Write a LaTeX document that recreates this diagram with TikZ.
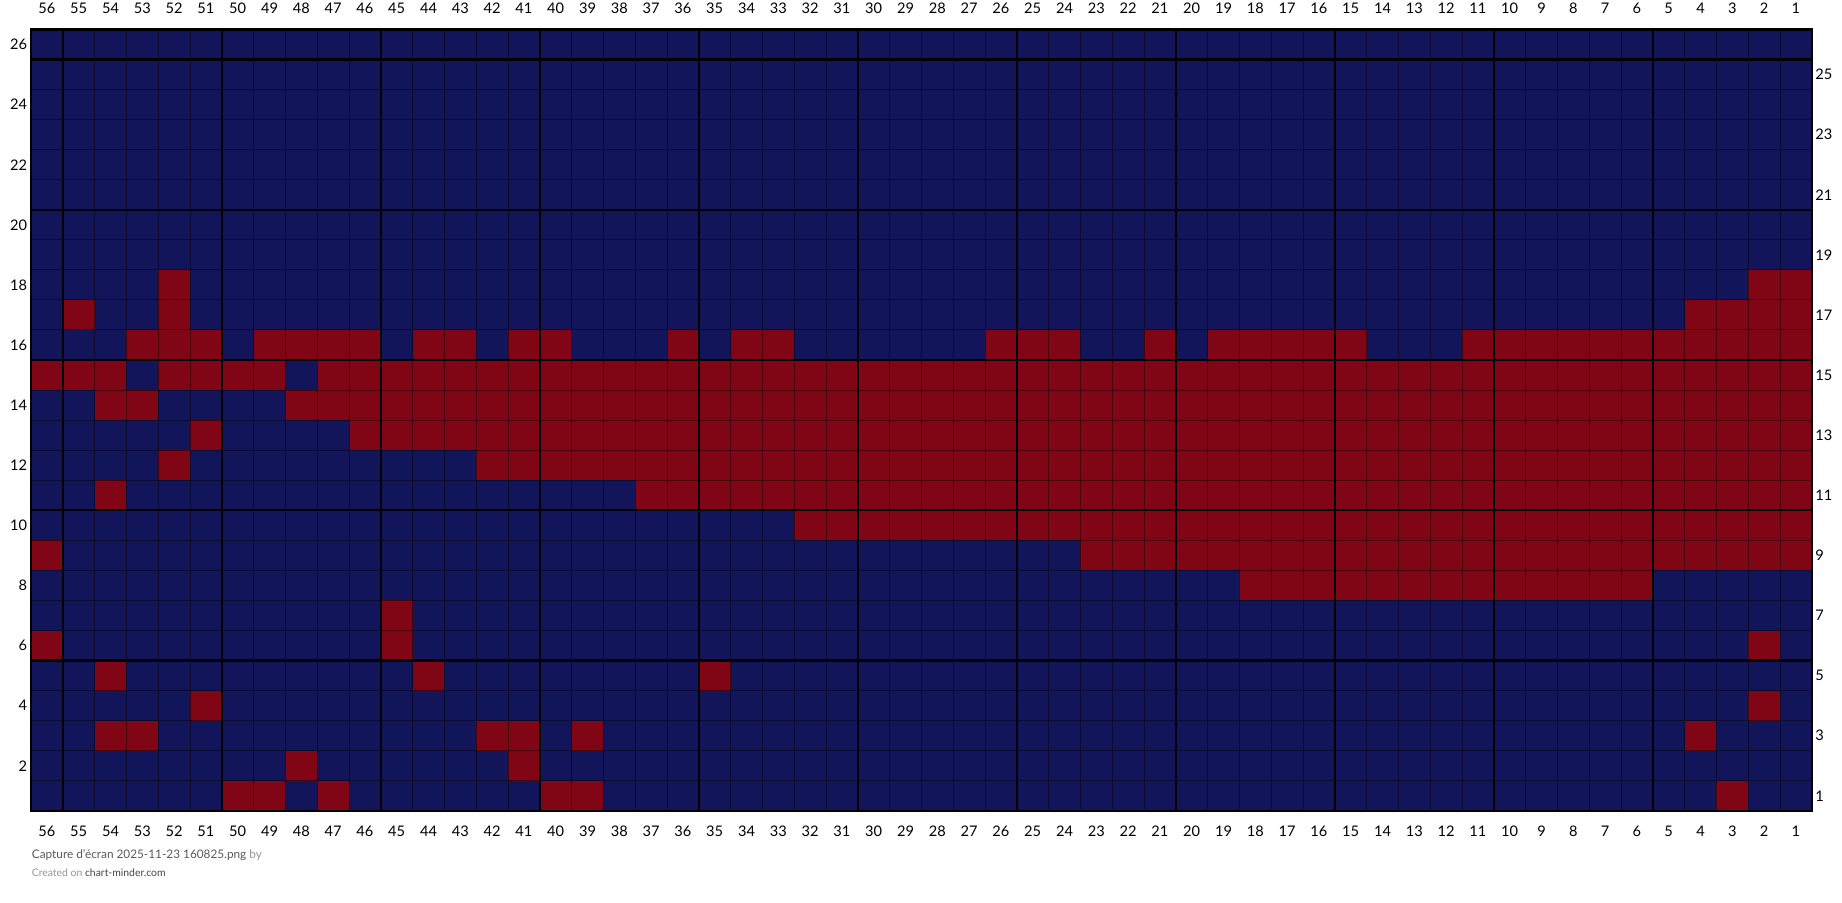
\documentclass[tikz,border=0pt]{standalone}
\usepackage{fontspec}
\setmainfont{Lato}
\definecolor{navyc}{RGB}{18,21,89}
\definecolor{redc}{RGB}{128,6,21}
\definecolor{gtxt}{RGB}{90,90,90}
\definecolor{glight}{RGB}{150,150,150}
\definecolor{gdark}{RGB}{70,70,70}
\def\gx{31}
\def\gy{29.5}
\def\cw{31.8}
\def\ch{30.05}
\begin{document}
\begin{tikzpicture}[x=0.5pt,y=-0.5pt,
  lab/.style={inner sep=0pt,font=\fontsize{7.3}{8}\selectfont,text=black},
  thinline/.style={draw=black,draw opacity=0.45,line width=0.5pt},
  thickline/.style={draw=black,line width=1.1pt},
  cellred/.style={fill=redc}]
\useasboundingbox[fill=white] (0,0) rectangle (1842,903);
% background grid
\fill[navyc] (\gx,\gy) rectangle ({\gx+56*\cw},{\gy+26*\ch});
% red cells: row / from column / to column
\foreach \r/\a/\b in {
  18/52/52, 18/2/1,
  17/55/55, 17/52/52, 17/4/1,
  16/53/51, 16/49/46, 16/44/43, 16/41/40, 16/36/36, 16/34/33, 16/26/24, 16/21/21, 16/19/15, 16/11/1,
  15/56/54, 15/52/49, 15/47/1,
  14/54/53, 14/48/1,
  13/51/51, 13/46/1,
  12/52/52, 12/42/1,
  11/54/54, 11/37/1,
  10/32/1,
  9/56/56, 9/23/1,
  8/18/6,
  7/45/45,
  6/56/56, 6/45/45, 6/2/2,
  5/54/54, 5/44/44, 5/35/35,
  4/51/51, 4/2/2,
  3/54/53, 3/42/41, 3/39/39, 3/4/4,
  2/48/48, 2/41/41,
  1/50/49, 1/47/47, 1/40/39, 1/3/3}
  {\fill[cellred] ({\gx+(56-\a)*\cw},{\gy+(26-\r)*\ch}) rectangle ({\gx+(57-\b)*\cw},{\gy+(27-\r)*\ch});}
% thin grid lines
\foreach \i in {1,...,55}
  {\draw[thinline] ({\gx+\i*\cw},\gy) -- ({\gx+\i*\cw},{\gy+26*\ch});}
\foreach \j in {1,...,25}
  {\draw[thinline] (\gx,{\gy+\j*\ch}) -- ({\gx+56*\cw},{\gy+\j*\ch});}
% thick lines every five
\foreach \i in {1,6,...,51}
  {\draw[thickline] ({\gx+\i*\cw},\gy) -- ({\gx+\i*\cw},{\gy+26*\ch});}
\foreach \j in {1,6,...,21}
  {\draw[thickline] (\gx,{\gy+\j*\ch}) -- ({\gx+56*\cw},{\gy+\j*\ch});}
\draw[thickline,line width=1.3pt] (\gx,\gy) rectangle ({\gx+56*\cw},{\gy+26*\ch});
% column numbers
\foreach \c in {1,...,56}{
  \node[lab] (top\c) at ({\gx+(56.5-\c)*\cw},8) {\c};
  \node[lab] (bot\c) at ({\gx+(56.5-\c)*\cw},831.5) {\c};
}
% row numbers
\foreach \r in {2,4,...,26}
  {\node[lab,anchor=east] (left\r) at (27.5,{\gy+(26.5-\r)*\ch}) {\r};}
\foreach \r in {1,3,...,25}
  {\node[lab,anchor=west] (right\r) at (1815,{\gy+(26.5-\r)*\ch}) {\r};}
% footer
\node[inner sep=0pt,anchor=west,font=\fontsize{5.9}{6.5}\selectfont] (caption) at (31.5,855)
  {\textcolor{gtxt}{Capture d'écran 2025-11-23 160825.png} \textcolor{glight}{by}};
\node[inner sep=0pt,anchor=west,font=\fontsize{5.2}{6}\selectfont] (credit) at (31.5,873)
  {\textcolor{glight}{Created on} \textcolor{gdark}{chart-minder.com}};
\end{tikzpicture}
\end{document}
